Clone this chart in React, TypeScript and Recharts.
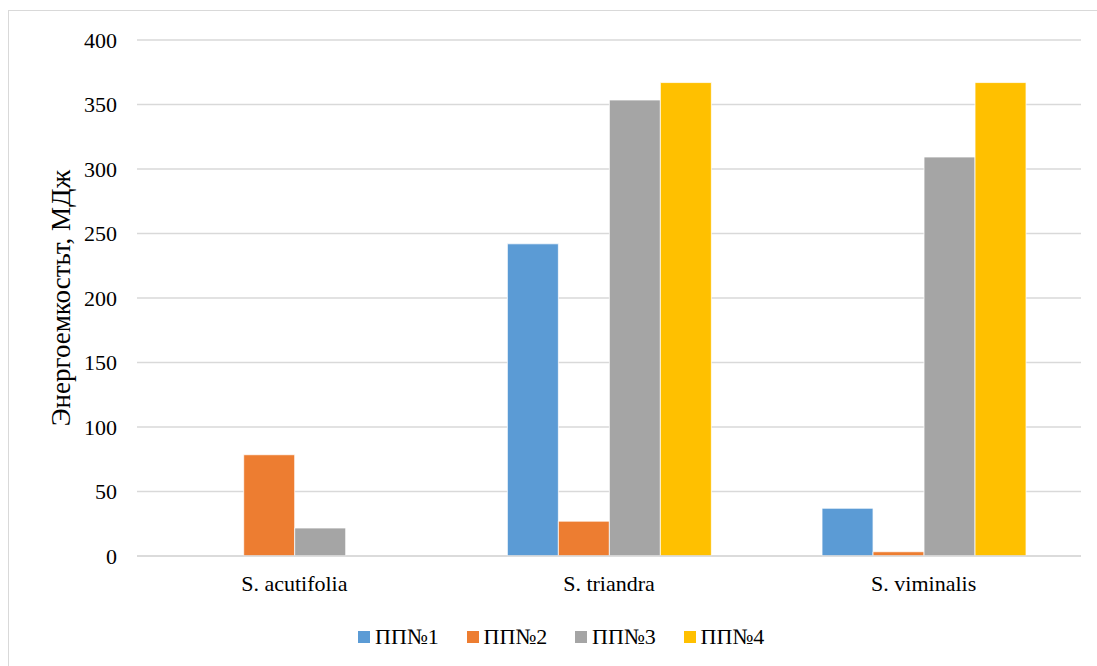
import React from "react";
import { BarChart, Bar, XAxis, YAxis, CartesianGrid, Legend } from "recharts";

const categories = ["S. acutifolia", "S. triandra", "S. viminalis"];
const seriesNames = ["ПП№1", "ПП№2", "ПП№3", "ПП№4"];
const seriesColors = ["#5B9BD5", "#ED7D31", "#A5A5A5", "#FFC000"];
const pp1 = [0, 242, 37];
const pp2 = [78.5, 27, 3.3];
const pp3 = [21.7, 353.5, 309.3];
const pp4 = [0, 367, 367];
const yTicks = [0, 50, 100, 150, 200, 250, 300, 350, 400];
const yLabel = "Энергоемкостьт, МДж";

const seriesValues = [pp1, pp2, pp3, pp4];
const data = categories.map((name, i) => {
  const row: Record<string, string | number> = { name };
  seriesNames.forEach((s, j) => {
    row[s] = seriesValues[j][i];
  });
  return row;
});

const FONT = "'Liberation Serif', 'Times New Roman', serif";

const LegendContent = () => (
  <div
    style={{
      display: "flex",
      alignItems: "center",
      paddingLeft: 349,
      fontFamily: FONT,
      fontSize: 22,
      color: "#000",
      height: 58,
    }}
  >
    {seriesNames.map((s, i) => (
      <div
        key={s}
        style={{ display: "flex", alignItems: "center", width: 108.5, flex: "none" }}
      >
        <span
          style={{
            display: "inline-block",
            width: 12,
            height: 12,
            background: seriesColors[i],
            marginRight: 5,
          }}
        />
        <span>{s}</span>
      </div>
    ))}
  </div>
);

const YLabel = (props: any) => {
  const vb = props.viewBox || {};
  const cx = (vb.x || 0) + 52;
  const cy = (vb.y || 0) + (vb.height || 0) / 2;
  return (
    <text
      x={cx}
      y={cy}
      transform={`rotate(-90, ${cx}, ${cy})`}
      textAnchor="middle"
      dominantBaseline="central"
      fontFamily={FONT}
      fontSize={27}
      fill="#000"
    >
      {yLabel}
    </text>
  );
};

export default function App() {
  return (
    <div
      style={{
        position: "absolute",
        left: 8,
        top: 10,
        width: 1089,
        height: 656,
        borderLeft: "1px solid #d9d9d9",
        borderTop: "1px solid #d9d9d9",
        background: "#fff",
      }}
    >
      <BarChart
        width={1089}
        height={655}
        data={data}
        margin={{ top: 29, right: 17, left: 0, bottom: 0 }}
        barCategoryGap="17.7%"
        barGap={0}
      >
        <CartesianGrid vertical={false} stroke="#d9d9d9" strokeWidth={1.5} />
        <XAxis
          dataKey="name"
          height={52}
          axisLine={{ stroke: "#d9d9d9", strokeWidth: 1.5 }}
          tickLine={false}
          tickSize={0}
          tickMargin={19}
          tick={{ fontFamily: FONT, fontSize: 22, fill: "#000" }}
        />
        <YAxis
          width={128}
          domain={[0, 400]}
          ticks={yTicks}
          interval={0}
          axisLine={false}
          tickLine={false}
          tickSize={0}
          tickMargin={20}
          tick={{ fontFamily: FONT, fontSize: 22, fill: "#000" }}
          label={<YLabel />}
        />
        <Legend verticalAlign="bottom" height={58} content={<LegendContent />} />
        {seriesNames.map((s, i) => (
          <Bar
            key={s}
            dataKey={s}
            fill={seriesColors[i]}
            stroke="#ffffff"
            strokeWidth={0.75}
            isAnimationActive={false}
          />
        ))}
      </BarChart>
    </div>
  );
}
